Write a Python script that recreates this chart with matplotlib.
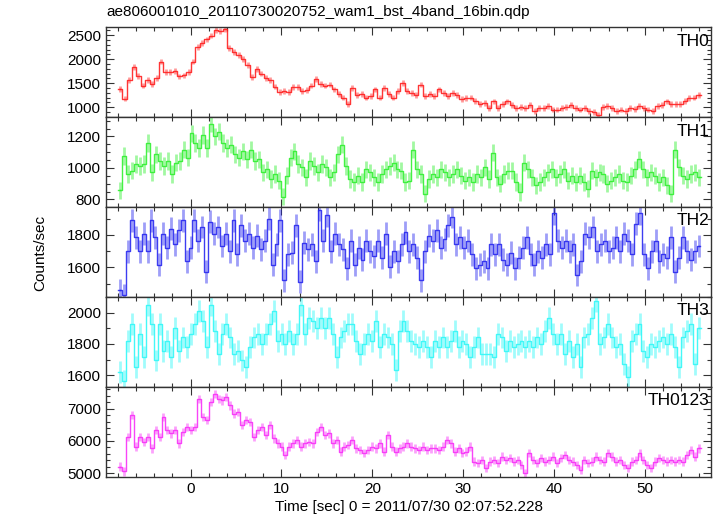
"""
plot.py

Recreates the WAM burst light curve (4 bands + sum) from the QDP dump.
Values are read off the reference picture, roughly one per 0.5 s bin.
"""

import numpy as np
import matplotlib
matplotlib.use("Agg")
import matplotlib.pyplot as plt
from matplotlib.ticker import MultipleLocator

plt.rcParams["font.family"] = ["Liberation Sans", "DejaVu Sans"]

TITLE = "ae806001010_20110730020752_wam1_bst_4band_16bin.qdp"
XLABEL = "Time [sec] 0 = 2011/07/30 02:07:52.228"
YLABEL = "Counts/sec"

# first and last bin centre [sec]
T_FIRST = -7.75
T_LAST = 55.9

band_names = ["TH0", "TH1", "TH2", "TH3", "TH0123"]
band_colors = ["#ff2020", "#30f030", "#2828f0", "#30f8f8", "#f830f8"]
band_errors = [60, 55, 70, 70, 130]

th0 = [1380, 1180, 1560, 1840, 1650, 1450, 1560, 1490, 1600, 1950, 1740, 1740,
       1760, 1640, 1660, 1740, 1950, 2250, 2340, 2410, 2490, 2600, 2590, 2630,
       2230, 2150, 2080, 2000, 1880, 1630, 1800, 1700, 1600, 1560, 1430, 1310,
       1340, 1320, 1420, 1420, 1330, 1350, 1450, 1590, 1480, 1450, 1470, 1370,
       1280, 1200, 1060, 1400, 1250, 1270, 1200, 1240, 1370, 1200, 1400, 1270,
       1200, 1340, 1510, 1330, 1300, 1250, 1470, 1240, 1270, 1240, 1370, 1300,
       1240, 1300, 1250, 1170, 1190, 1200, 1130, 1060, 1090, 990, 1120, 990,
       1060, 1120, 1050, 990, 1010, 990, 1050, 920, 980, 980, 1020, 950,
       950, 980, 1000, 1050, 990, 950, 980, 920, 900, 830, 1000, 1030,
       990, 920, 950, 920, 980, 960, 1020, 990, 950, 920, 1020, 1050,
       1120, 1060, 1060, 1070, 1130, 1190, 1200, 1250]

th1 = [858, 1075, 961, 982, 1024, 1013, 1024, 1158, 972, 1086, 1044, 1013,
       1044, 961, 1034, 1044, 1117, 1065, 1220, 1158, 1127, 1210, 1127, 1282,
       1200, 1230, 1158, 1127, 1148, 1086, 1065, 1106, 1055, 1117, 1044, 1055,
       972, 992, 930, 961, 920, 817, 951, 1065, 1106, 1024, 1003, 941,
       1044, 1013, 972, 1024, 1003, 941, 972, 1086, 1148, 1013, 930, 910,
       951, 910, 992, 972, 941, 910, 961, 992, 1013, 1034, 992, 982,
       910, 920, 1117, 992, 961, 837, 930, 961, 941, 992, 972, 941,
       961, 992, 951, 920, 941, 910, 961, 941, 1003, 930, 1096, 941,
       899, 961, 982, 982, 910, 848, 1034, 992, 941, 889, 910, 941,
       972, 992, 941, 961, 992, 920, 951, 910, 951, 910, 868, 982,
       941, 972, 961, 899, 920, 941, 961, 920, 910, 951, 992, 1055,
       992, 941, 972, 951, 910, 941, 889, 837, 1117, 1003, 951, 930,
       961, 972, 941]

th2 = [1459, 1430, 1700, 1890, 1785, 1700, 1806, 1700, 1890, 1785, 1617, 1806,
       1722, 1837, 1743, 1827, 1890, 1638, 1722, 1890, 1764, 1848, 1575, 1880,
       1806, 1848, 1732, 1806, 1700, 1890, 1680, 1858, 1764, 1806, 1722, 1795,
       1711, 1764, 1900, 1617, 1743, 1890, 1522, 1680, 1690, 1858, 1512, 1753,
       1711, 1743, 1638, 1953, 1764, 1921, 1700, 1806, 1743, 1711, 1596, 1764,
       1617, 1722, 1648, 1764, 1700, 1669, 1764, 1659, 1806, 1606, 1700, 1638,
       1743, 1816, 1700, 1743, 1659, 1522, 1700, 1795, 1764, 1827, 1722, 1774,
       1858, 1911, 1743, 1785, 1722, 1764, 1680, 1596, 1617, 1638, 1596, 1743,
       1680, 1743, 1648, 1617, 1690, 1596, 1659, 1722, 1785, 1680, 1617, 1700,
       1659, 1743, 1680, 1932, 1764, 1722, 1764, 1700, 1743, 1554, 1638, 1806,
       1785, 1848, 1700, 1743, 1764, 1700, 1722, 1785, 1700, 1806, 1764, 1680,
       1869, 1932, 1680, 1596, 1700, 1764, 1638, 1680, 1659, 1785, 1575, 1659,
       1785, 1700, 1648, 1700, 1732]

th3 = [1620, 1560, 1820, 1925, 1652, 1862, 1715, 2051, 1925, 1694, 1925, 1757,
       1820, 1715, 1904, 1757, 1841, 1778, 1862, 1925, 2009, 1946, 1778, 2051,
       1883, 1736, 1862, 1925, 1841, 1736, 1757, 1694, 1652, 1778, 1841, 1862,
       1799, 1862, 1925, 2009, 1820, 1862, 1799, 1883, 1799, 1862, 2051, 1862,
       1967, 1946, 1904, 1967, 1904, 1967, 1862, 1715, 1841, 1883, 1925, 1925,
       1820, 1736, 1799, 1862, 1820, 1946, 1778, 1862, 1841, 1799, 1631, 1883,
       1946, 1883, 1820, 1799, 1778, 1820, 1778, 1715, 1820, 1778, 1841, 1778,
       1820, 1883, 1778, 1820, 1799, 1715, 1778, 1841, 1736, 1736, 1736, 1715,
       1862, 1841, 1757, 1820, 1778, 1799, 1820, 1778, 1820, 1778, 1841, 1799,
       1883, 1967, 1862, 1799, 1862, 1736, 1820, 1715, 1799, 1652, 1841, 1862,
       1967, 2072, 1799, 1841, 1925, 1841, 1778, 1799, 1673, 1589, 1820, 1862,
       1925, 1757, 1715, 1799, 1778, 1820, 1841, 1799, 1862, 1778, 1652, 1841,
       1883, 1925, 1673, 1904]

th0123 = [5200, 5051, 6129, 6795, 5821, 6129, 5975, 6129, 5769, 6334, 6129, 6744,
          6334, 6231, 6334, 5923, 6283, 6436, 6334, 6436, 7308, 6744, 6641, 7206,
          7462, 7308, 7257, 7360, 7103, 6847, 6898, 6488, 6641, 6590, 6129, 6334,
          6436, 6180, 6488, 6077, 5923, 5821, 5564, 5821, 5923, 6026, 5821, 5923,
          5975, 5923, 6283, 6436, 6180, 6231, 5923, 6026, 5667, 5821, 5872, 6026,
          5769, 5718, 5615, 5718, 5821, 5769, 5923, 5667, 6180, 5821, 5667, 5769,
          5821, 5923, 5821, 5769, 5718, 5821, 5718, 5769, 5769, 5718, 5821, 6026,
          5923, 5667, 5769, 5615, 5667, 5821, 5359, 5308, 5410, 5154, 5359, 5410,
          5308, 5513, 5410, 5462, 5359, 5410, 5257, 5000, 5615, 5410, 5308, 5462,
          5359, 5410, 5513, 5308, 5462, 5564, 5410, 5359, 5257, 5103, 5410, 5308,
          5359, 5513, 5410, 5359, 5615, 5513, 5359, 5410, 5257, 5154, 5359, 5410,
          5615, 5410, 5257, 5154, 5359, 5462, 5410, 5359, 5410, 5359, 5410, 5359,
          5564, 5718, 5513, 5769]

band_values = [th0, th1, th2, th3, th0123]

# axis ranges and tick steps, one entry per panel
y_limits = [(790, 2662), (751, 1322), (1419, 1970), (1525, 2100), (4886, 7677)]
y_major = [500, 200, 200, 200, 1000]
y_minor = [100, 50, 100, 100, 200]
X_LIMITS = (-9.3, 57.3)


def draw_band(ax, values, color, err):
    y = np.asarray(values, dtype=float)
    t = np.linspace(T_FIRST, T_LAST, len(y))
    half = (t[1] - t[0]) / 2
    # light error bars under a darker step line, like QDP "line step"
    ax.errorbar(t, y, yerr=err, fmt="none", ecolor=color, elinewidth=2.0,
                alpha=0.45, capsize=0)
    ax.step(t, y, where="mid", color=color, lw=1.0, alpha=0.9)
    ax.plot([t[0] - half, t[0]], [y[0], y[0]], color=color, lw=1.0, alpha=0.9)
    ax.plot([t[-1], t[-1] + half], [y[-1], y[-1]], color=color, lw=1.0, alpha=0.9)


fig, axes = plt.subplots(5, 1, sharex=True, figsize=(7.17, 5.16), dpi=100)
fig.subplots_adjust(left=0.148, right=0.992, top=0.947, bottom=0.076, hspace=0)

for i, ax in enumerate(axes):
    draw_band(ax, band_values[i], band_colors[i], band_errors[i])
    ax.set_xlim(*X_LIMITS)
    ax.set_ylim(*y_limits[i])
    ax.xaxis.set_major_locator(MultipleLocator(10))
    ax.xaxis.set_minor_locator(MultipleLocator(2))
    ax.yaxis.set_major_locator(MultipleLocator(y_major[i]))
    ax.yaxis.set_minor_locator(MultipleLocator(y_minor[i]))
    ax.tick_params(which="both", direction="in", top=True, right=True,
                   labelsize=11, width=0.8, color="#333333")
    ax.tick_params(which="major", length=6)
    ax.tick_params(which="minor", length=3)
    for sp in ax.spines.values():
        sp.set_linewidth(1.0)
        sp.set_color("#333333")
    ax.text(0.997, 0.93, band_names[i], transform=ax.transAxes,
            ha="right", va="top", fontsize=12.5)

axes[-1].set_xlabel(XLABEL, fontsize=11, labelpad=3)
fig.text(0.056, 0.51, YLABEL, rotation=90, ha="center", va="center", fontsize=11)
fig.text(0.149, 0.977, TITLE, ha="left", va="center", fontsize=11)

fig.savefig("out.png", dpi=100)
